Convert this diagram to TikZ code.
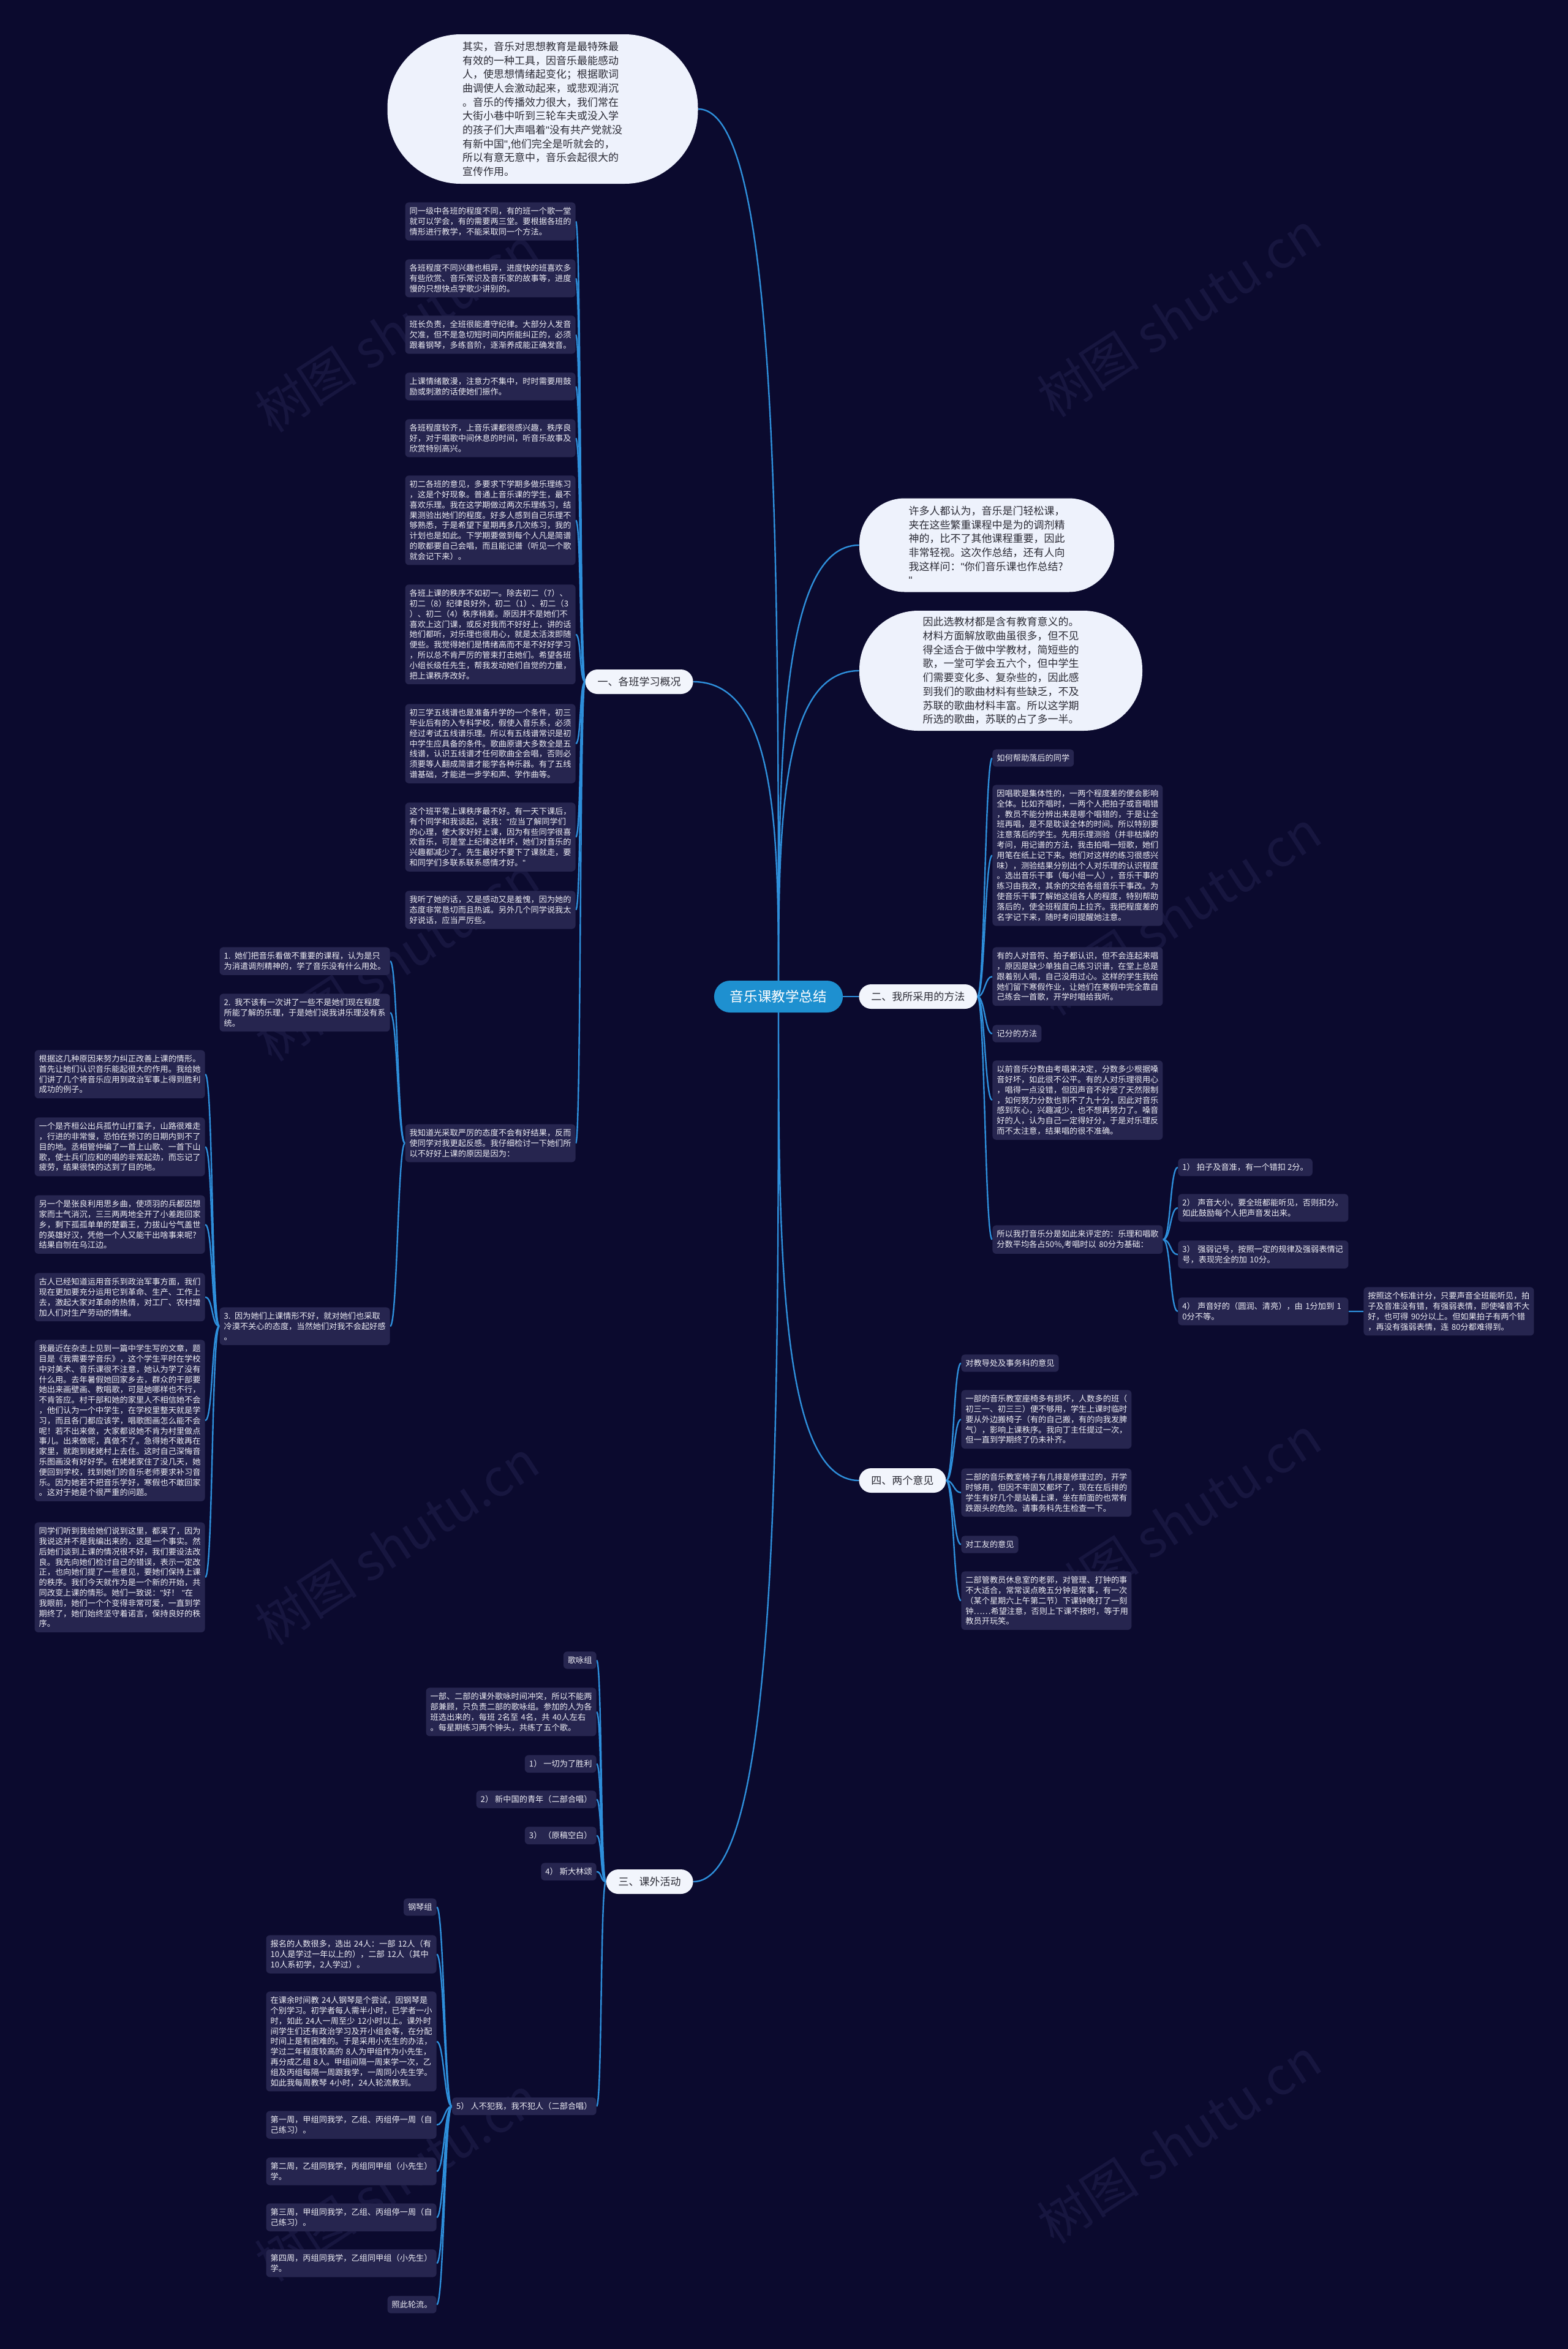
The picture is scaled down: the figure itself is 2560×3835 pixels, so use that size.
\documentclass[tikz,border=0pt]{standalone}
\usepackage{fontspec}
\setmainfont{Noto Sans CJK SC}
\newfontfamily\latq{Liberation Sans}
\newcommand\q{{\latq"}}
\usetikzlibrary{calc,backgrounds}
\definecolor{bg}{HTML}{0B0A2E}
\definecolor{leaffill}{HTML}{26254F}
\definecolor{leaftext}{HTML}{EEEEF5}
\definecolor{linec}{HTML}{2E8FDB}
\definecolor{bubfill}{HTML}{EEF2FC}
\definecolor{bubtext}{HTML}{2B2B35}
\definecolor{rootfill}{HTML}{1E90D0}
\definecolor{branchfill}{HTML}{F2F5FC}
\definecolor{branchtext}{HTML}{2B2B35}
\definecolor{wm}{HTML}{17163F}
\newcommand\lconn[3][14]{\draw[conn] (#2.west) .. controls +(-#1,0) and +(#1,0) .. (#3.east);}
\newcommand\rconn[3][14]{\draw[conn] (#2.east) .. controls +(#1,0) and +(-#1,0) .. (#3.west);}
\begin{document}
\begin{tikzpicture}[x=0.5pt,y=-0.5pt,
  leaf/.style={fill=leaffill, text=leaftext, rounded corners=3pt, inner xsep=3.5pt, inner ysep=4pt, align=left, font=\fontsize{6.6pt}{8.4pt}\selectfont},
  leafw/.style={leaf, text width=132pt},
  bubble/.style={fill=bubfill, text=bubtext, align=left, inner sep=0pt, font=\fontsize{8.5pt}{11.35pt}\selectfont},
  branch/.style={fill=branchfill, text=branchtext, rounded corners=10pt, minimum height=20pt, inner xsep=10pt, inner ysep=2pt, font=\fontsize{8.5pt}{10pt}\selectfont},
  root/.style={fill=rootfill, text=white, rounded corners=13pt, minimum height=26pt, inner xsep=13pt, inner ysep=2pt, font=\fontsize{11.3pt}{13pt}\selectfont},
  conn/.style={draw=linec, line width=1.2pt},
  wmark/.style={text=wm, rotate=33, font=\fontsize{42pt}{44pt}\selectfont}
]
\useasboundingbox (0,0) rectangle (2560,3835);

% root and first level
\node[root] (root) at (1271,1627) {音乐课教学总结};
\node[bubble, text width=131pt, minimum width=253.5pt, minimum height=122pt, rounded corners=60pt] (top) at (886,178) {其实，音乐对思想教育是最特殊最\\有效的一种工具，因音乐最能感动\\人，使思想情绪起变化；根据歌词\\曲调使人会激动起来，或悲观消沉\\。音乐的传播效力很大，我们常在\\大街小巷中听到三轮车夫或没入学\\的孩子们大声唱着\q 没有共产党就没\\有新中国\q,他们完全是听就会的，\\所以有意无意中，音乐会起很大的\\宣传作用。};
\node[bubble, text width=127.5pt, minimum width=208pt, minimum height=76.5pt, rounded corners=37pt] (bub1) at (1611,890) {许多人都认为，音乐是门轻松课，\\夹在这些繁重课程中是为的调剂精\\神的，比不了其他课程重要，因此\\非常轻视。这次作总结，还有人向\\我这样问：\q 你们音乐课也作总结?\\\q};
\node[bubble, text width=127.5pt, minimum width=231pt, minimum height=98pt, rounded corners=48pt] (bub2) at (1634,1095) {因此选教材都是含有教育意义的。\\材料方面解放歌曲虽很多，但不见\\得全适合于做中学教材，简短些的\\歌，一堂可学会五六个，但中学生\\们需要变化多、复杂些的，因此感\\到我们的歌曲材料有些缺乏，不及\\苏联的歌曲材料丰富。所以这学期\\所选的歌曲，苏联的占了多一半。};
\node[branch, anchor=east] (b1) at (1132,1113) {一、各班学习概况};
\node[branch, anchor=west] (b2) at (1402,1627) {二、我所采用的方法};
\node[branch, anchor=west] (b4) at (1402,2417) {四、两个意见};
\node[branch, anchor=east] (b3) at (1132,3072) {三、课外活动};

% section 1
\node[leafw, anchor=north east] (L1) at (940,330) {同一级中各班的程度不同，有的班一个歌一堂\\就可以学会，有的需要两三堂。要根据各班的\\情形进行教学，不能采取同一个方法。};
\node[leafw, anchor=north east] (L2) at (940,423) {各班程度不同兴趣也相异，进度快的班喜欢多\\有些欣赏、音乐常识及音乐家的故事等，进度\\慢的只想快点学歌少讲别的。};
\node[leafw, anchor=north east] (L3) at (940,515) {班长负责，全班很能遵守纪律。大部分人发音\\欠准，但不是急切短时间内所能纠正的，必须\\跟着钢琴，多练音阶，逐渐养成能正确发音。};
\node[leafw, anchor=north east] (L4) at (940,608) {上课情绪散漫，注意力不集中，时时需要用鼓\\励或刺激的话使她们振作。};
\node[leafw, anchor=north east] (L5) at (940,684) {各班程度较齐，上音乐课都很感兴趣，秩序良\\好，对于唱歌中间休息的时间，听音乐故事及\\欣赏特别高兴。};
\node[leafw, anchor=north east] (L6) at (940,776) {初二各班的意见，多要求下学期多做乐理练习\\，这是个好现象。普通上音乐课的学生，最不\\喜欢乐理。我在这学期做过两次乐理练习，结\\果测验出她们的程度。好多人感到自己乐理不\\够熟悉，于是希望下星期再多几次练习，我的\\计划也是如此。下学期要做到每个人凡是简谱\\的歌都要自己会唱，而且能记谱（听见一个歌\\就会记下来）。};
\node[leafw, anchor=north east] (L7) at (940,954) {各班上课的秩序不如初一。除去初二（7）、\\初二（8）纪律良好外，初二（1）、初二（3\\）、初二（4）秩序稍差。原因并不是她们不\\喜欢上这门课，或反对我而不好好上，讲的话\\她们都听，对乐理也很用心，就是太活泼即随\\便些。我觉得她们是情绪高而不是不好好学习\\，所以总不肯严厉的管束打击她们。希望各班\\小组长级任先生，帮我发动她们自觉的力量，\\把上课秩序改好。};
\node[leafw, anchor=north east] (L8) at (940,1149) {初三学五线谱也是准备升学的一个条件，初三\\毕业后有的入专科学校，假使入音乐系，必须\\经过考试五线谱乐理。所以有五线谱常识是初\\中学生应具备的条件。歌曲原谱大多数全是五\\线谱，认识五线谱才任何歌曲全会唱，否则必\\须要等人翻成简谱才能学各种乐器。有了五线\\谱基础，才能进一步学和声、学作曲等。};
\node[leafw, anchor=north east] (L9) at (940,1310) {这个班平常上课秩序最不好。有一天下课后，\\有个同学和我谈起，说我：\q 应当了解同学们\\的心理，使大家好好上课，因为有些同学很喜\\欢音乐，可是堂上纪律这样坏，她们对音乐的\\兴趣都减少了。先生最好不要下了课就走，要\\和同学们多联系联系感情才好。\q};
\node[leafw, anchor=north east] (L10) at (940,1454) {我听了她的话，又是感动又是羞愧，因为她的\\态度非常恳切而且热诚。另外几个同学说我太\\好说话，应当严厉些。};
\node[leafw, anchor=north east] (L11) at (940,1835) {我知道光采取严厉的态度不会有好结果，反而\\使同学对我更起反感。我仔细检讨一下她们所\\以不好好上课的原因是因为：};
\node[leafw, anchor=north east] (K1) at (637,1546) {1. 她们把音乐看做不重要的课程，认为是只\\为消遣调剂精神的，学了音乐没有什么用处。};
\node[leafw, anchor=north east] (K2) at (637,1622) {2. 我不该有一次讲了一些不是她们现在程度\\所能了解的乐理，于是她们说我讲乐理没有系\\统。};
\node[leafw, anchor=north east] (K3) at (637,2134) {3. 因为她们上课情形不好，就对她们也采取\\冷漠不关心的态度，当然她们对我不会起好感\\。};
\node[leafw, anchor=north east] (M1) at (335,1714) {根据这几种原因来努力纠正改善上课的情形。\\首先让她们认识音乐能起很大的作用。我给她\\们讲了几个将音乐应用到政治军事上得到胜利\\成功的例子。};
\node[leafw, anchor=north east] (M2) at (335,1824) {一个是齐桓公出兵孤竹山打蛮子，山路很难走\\，行进的非常慢，恐怕在预订的日期内到不了\\目的地。丞相管仲编了一首上山歌、一首下山\\歌，使士兵们应和的唱的非常起劲，而忘记了\\疲劳，结果很快的达到了目的地。};
\node[leafw, anchor=north east] (M3) at (335,1951) {另一个是张良利用思乡曲，使项羽的兵都因想\\家而士气消沉，三三两两地全开了小差跑回家\\乡，剩下孤孤单单的楚霸王，力拔山兮气盖世\\的英雄好汉，凭他一个人又能干出啥事来呢?\\结果自刎在乌江边。};
\node[leafw, anchor=north east] (M4) at (335,2078) {古人已经知道运用音乐到政治军事方面，我们\\现在更加要充分运用它到革命、生产、工作上\\去，激起大家对革命的热情，对工厂、农村增\\加人们对生产劳动的情绪。};
\node[leafw, anchor=north east] (M5) at (335,2187) {我最近在杂志上见到一篇中学生写的文章，题\\目是《我需要学音乐》，这个学生平时在学校\\中对美术、音乐课很不注意，她认为学了没有\\什么用。去年暑假她回家乡去，群众的干部要\\她出来画壁画、教唱歌，可是她哪样也不行，\\不肯答应。村干部和她的家里人不相信她不会\\，他们认为一个中学生，在学校里整天就是学\\习，而且各门都应该学，唱歌图画怎么能不会\\呢！若不出来做，大家都说她不肯为村里做点\\事儿。出来做呢，真做不了。急得她不敢再在\\家里，就跑到姥姥村上去住。这时自己深悔音\\乐图画没有好好学。在姥姥家住了没几天，她\\便回到学校，找到她们的音乐老师要求补习音\\乐。因为她若不把音乐学好，寒假也不敢回家\\。这对于她是个很严重的问题。};
\node[leafw, anchor=north east] (M6) at (335,2485) {同学们听到我给她们说到这里，都呆了，因为\\我说这并不是我编出来的，这是一个事实。然\\后她们谈到上课的情况很不好，我们要设法改\\良。我先向她们检讨自己的错误，表示一定改\\正，也向她们提了一些意见，要她们保持上课\\的秩序。我们今天就作为是一个新的开始，共\\同改变上课的情形。她们一致说：\q 好！~\q 在\\我眼前，她们一个个变得非常可爱，一直到学\\期终了，她们始终坚守着诺言，保持良好的秩\\序。};

% section 2
\node[leaf, anchor=north west] (R1) at (1620,1223) {如何帮助落后的同学};
\node[leafw, anchor=north west] (R2) at (1620,1281) {因唱歌是集体性的，一两个程度差的便会影响\\全体。比如齐唱时，一两个人把拍子或音唱错\\，教员不能分辨出来是哪个唱错的，于是让全\\班再唱，是不是耽误全体的时间。所以特别要\\注意落后的学生。先用乐理测验（并非枯燥的\\考问，用记谱的方法，我击拍唱一短歌，她们\\用笔在纸上记下来。她们对这样的练习很感兴\\味），测验结果分别出个人对乐理的认识程度\\。选出音乐干事（每小组一人），音乐干事的\\练习由我改，其余的交给各组音乐干事改。为\\使音乐干事了解她这组各人的程度，特别帮助\\落后的，使全班程度向上拉齐。我把程度差的\\名字记下来，随时考问提醒她注意。};
\node[leafw, anchor=north west] (R3) at (1620,1546) {有的人对音符、拍子都认识，但不会连起来唱\\，原因是缺少单独自己练习识谱，在堂上总是\\跟着别人唱，自己没用过心。这样的学生我给\\她们留下寒假作业，让她们在寒假中完全靠自\\己练会一首歌，开学时唱给我听。};
\node[leaf, anchor=north west] (R4) at (1620,1673) {记分的方法};
\node[leafw, anchor=north west] (R5) at (1620,1731) {以前音乐分数由考唱来决定，分数多少根据嗓\\音好坏，如此很不公平。有的人对乐理很用心\\，唱得一点没错，但因声音不好受了天然限制\\，如何努力分数也到不了九十分，因此对音乐\\感到灰心，兴趣减少，也不想再努力了。嗓音\\好的人，认为自己一定得好分，于是对乐理反\\而不太注意，结果唱的很不准确。};
\node[leafw, anchor=north west] (R6) at (1620,2000) {所以我打音乐分是如此来评定的：乐理和唱歌\\分数平均各占50\%,考唱时以 80分为基础：};
\node[leaf, anchor=north west] (P1) at (1923,1891) {1） 拍子及音准，有一个错扣 2分。};
\node[leafw, anchor=north west] (P2) at (1923,1949) {2） 声音大小，要全班都能听见，否则扣分。\\如此鼓励每个人把声音发出来。};
\node[leafw, anchor=north west] (P3) at (1923,2025) {3） 强弱记号，按照一定的规律及强弱表情记\\号，表现完全的加 10分。};
\node[leafw, anchor=north west] (P4) at (1923,2118) {4） 声音好的（圆润、清亮），由 1分加到 1\\0分不等。};
\node[leafw, anchor=north west] (Q) at (2226,2101) {按照这个标准计分，只要声音全班能听见，拍\\子及音准没有错，有强弱表情，即使嗓音不大\\好，也可得 90分以上。但如果拍子有两个错\\，再没有强弱表情，连 80分都难得到。};

% section 4
\node[leaf, anchor=north west] (S1) at (1569,2211) {对教导处及事务科的意见};
\node[leafw, anchor=north west] (S2) at (1569,2269) {一部的音乐教室座椅多有损坏，人数多的班（\\初三一、初三三）便不够用，学生上课时临时\\要从外边搬椅子（有的自己搬，有的向我发脾\\气），影响上课秩序。我向丁主任提过一次，\\但一直到学期终了仍未补齐。};
\node[leafw, anchor=north west] (S3) at (1569,2397) {二部的音乐教室椅子有几排是修理过的，开学\\时够用，但因不牢固又都坏了，现在在后排的\\学生有好几个是站着上课，坐在前面的也常有\\跌跟头的危险。请事务科先生检查一下。};
\node[leaf, anchor=north west] (S4) at (1569,2507) {对工友的意见};
\node[leafw, anchor=north west] (S5) at (1569,2565) {二部管教员休息室的老郭，对管理、打钟的事\\不大适合，常常误点晚五分钟是常事，有一次\\（某个星期六上午第二节）下课钟晚打了一刻\\钟……希望注意，否则上下课不按时，等于用\\教员开玩笑。};

% section 3
\node[leaf, anchor=north east] (T1) at (974,2696) {歌咏组};
\node[leafw, anchor=north east] (T2) at (974,2755) {一部、二部的课外歌咏时间冲突，所以不能两\\部兼顾，只负责二部的歌咏组。参加的人为各\\班选出来的，每班 2名至 4名，共 40人左右\\。每星期练习两个钟头，共练了五个歌。};
\node[leaf, anchor=north east] (T3) at (974,2865) {1） 一切为了胜利};
\node[leaf, anchor=north east] (T4) at (974,2923) {2） 新中国的青年（二部合唱）};
\node[leaf, anchor=north east] (T5) at (974,2982) {3） （原稿空白）};
\node[leaf, anchor=north east] (T6) at (974,3041) {4） 斯大林颂};
\node[leaf, anchor=north east] (T7) at (974,3424) {5） 人不犯我，我不犯人（二部合唱）};
\node[leaf, anchor=north east] (U1) at (713,3099) {钢琴组};
\node[leafw, anchor=north east] (U2) at (713,3159) {报名的人数很多，选出 24人：一部 12人（有\\ 10人是学过一年以上的），二部 12人（其中\\ 10人系初学，2人学过）。};
\node[leafw, anchor=north east] (U3) at (713,3251) {在课余时间教 24人钢琴是个尝试，因钢琴是\\个别学习。初学者每人需半小时，已学者一小\\时，如此 24人一周至少 12小时以上。课外时\\间学生们还有政治学习及开小组会等，在分配\\时间上是有困难的。于是采用小先生的办法，\\学过二年程度较高的 8人为甲组作为小先生，\\再分成乙组 8人。甲组间隔一周来学一次，乙\\组及丙组每隔一周跟我学，一周同小先生学。\\如此我每周教琴 4小时，24人轮流教到。};
\node[leafw, anchor=north east] (U4) at (713,3446) {第一周，甲组同我学，乙组、丙组停一周（自\\己练习）。};
\node[leafw, anchor=north east] (U5) at (713,3522) {第二周，乙组同我学，丙组同甲组（小先生）\\学。};
\node[leafw, anchor=north east] (U6) at (713,3597) {第三周，甲组同我学，乙组、丙组停一周（自\\己练习）。};
\node[leafw, anchor=north east] (U7) at (713,3672) {第四周，丙组同我学，乙组同甲组（小先生）\\学。};
\node[leaf, anchor=north east] (U8) at (713,3748) {照此轮流。};

\begin{pgfonlayer}{background}
\fill[bg] (0,0) rectangle (2560,3835);
% watermarks
\foreach \wx/\wy [count=\wi] in {648/538, 1925/513, 648/1565, 1925/1490, 648/2518, 1925/2480, 648/3557, 1925/3495}
  \node[wmark] (wm\wi) at (\wx,\wy) {树图 shutu.cn};
% connectors: root (from its centre)
\draw[conn] (root.center) .. controls (1271,900) and (1271,178) .. (top.east);
\draw[conn] (root.center) .. controls (1271,1370) and (1271,1113) .. (b1.east);
\draw[conn] (root.center) .. controls (1271,1258) and (1271,890) .. (bub1.west);
\draw[conn] (root.center) .. controls (1271,1361) and (1271,1095) .. (bub2.west);
\draw[conn] (root.center) -- (b2.west);
\draw[conn] (root.center) .. controls (1271,2022) and (1271,2417) .. (b4.west);
\draw[conn] (root.center) .. controls (1271,2350) and (1271,3072) .. (b3.east);
% section 1
\foreach \c in {L1,L2,L3,L4,L5,L6,L7,L8,L9,L10,L11} {\lconn[9]{b1}{\c}}
\foreach \c in {K1,K2,K3} {\lconn[12]{L11}{\c}}
\foreach \c in {M1,M2,M3,M4,M5,M6} {\lconn[13]{K3}{\c}}
% section 2
\foreach \c in {R1,R2,R3,R4,R5,R6} {\rconn[12]{b2}{\c}}
\foreach \c in {P1,P2,P3,P4} {\rconn[13]{R6}{\c}}
\rconn[13]{P4}{Q}
% section 4
\foreach \c in {S1,S2,S3,S4,S5} {\rconn[12]{b4}{\c}}
% section 3
\foreach \c in {T1,T2,T3,T4,T5,T6,T7} {\lconn[9]{b3}{\c}}
\foreach \c in {U1,U2,U3,U4,U5,U6,U7,U8} {\lconn[12]{T7}{\c}}
\end{pgfonlayer}
\end{tikzpicture}
\end{document}
